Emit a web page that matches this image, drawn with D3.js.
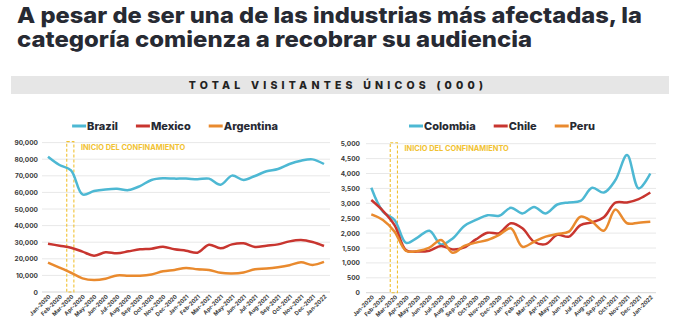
<!DOCTYPE html>
<html>
<head>
<meta charset="utf-8">
<script src="https://cdn.jsdelivr.net/npm/d3@7"></script>
<style>
  body { margin: 0; background: #fff; }
  svg { display: block; font-family: Inter, "Noto Sans", sans-serif; }
</style>
</head>
<body>
<script>
// months along the x axis
var months = ["Jan-2020","Feb-2020","Mar-2020","Apr-2020","May-2020","Jun-2020","Jul-2020","Aug-2020",
  "Sep-2020","Oct-2020","Nov-2020","Dec-2020","Jan-2021","Feb-2021","Mar-2021","Apr-2021","May-2021",
  "Jun-2021","Jul-2021","Aug-2021","Sep-2021","Oct-2021","Nov-2021","Dec-2021","Jan-2022"];

// left panel (000)
var brazil = [81500,76500,73300,58800,60800,61800,62200,61400,63800,67500,68500,68300,68300,67900,68300,
  64600,70100,67500,69900,72700,74100,77100,79100,79900,77100];
var mexico = [29100,27900,26700,24300,21900,23900,23300,24500,25700,26100,27300,25700,24900,23700,28500,
  26300,28700,29300,27100,27900,28700,30500,31300,30100,27700];
var argentina = [17700,14700,11600,8200,7200,8000,10000,9800,9800,10600,12500,13300,14500,13700,13300,
  11600,11200,11800,13700,14100,14900,16100,17900,16300,18100];

// right panel (000)
var colombia = [3520,2720,2440,1670,1860,2080,1620,1820,2240,2440,2600,2580,2850,2660,2880,2660,2960,3030,
  3080,3520,3360,3780,4620,3500,4000];
var chile = [3110,2750,2270,1420,1380,1410,1570,1450,1520,1790,2010,2000,2330,2160,1710,1630,1940,1880,
  2270,2360,2530,3020,3030,3140,3360];
var peru = [2630,2440,2050,1400,1400,1510,1770,1340,1570,1680,1770,1940,2160,1540,1710,1880,1970,2050,
  2550,2380,2080,2790,2330,2350,2380];

var leftTicks = [0,10000,20000,30000,40000,50000,60000,70000,80000,90000];
var rightTicks = [0,500,1000,1500,2000,2500,3000,3500,4000,4500,5000];

// lockdown window, as month index
var lockdown = [1.63, 2.25];

var titleLines = ["A pesar de ser una de las industrias más afectadas, la",
  "categoría comienza a recobrar su audiencia"];
var subtitle = "TOTAL VISITANTES ÚNICOS (000)";

var cyan = "#4db8d3", red = "#c8352f", orange = "#e98a2e", yellow = "#f1c232";

var W = 678, H = 330;
var svg = d3.select("body").append("svg").attr("width", W).attr("height", H);

svg.selectAll("text.title")
  .data(titleLines)
  .enter().append("text")
  .attr("class", "title")
  .attr("x", 17)
  .attr("y", function(d, i) { return 23 + i * 24; })
  .attr("font-size", 22)
  .attr("font-weight", 800)
  .attr("fill", "#272a33")
  .attr("textLength", function(d, i) { return i == 0 ? 625 : 515; })
  .attr("lengthAdjust", "spacingAndGlyphs")
  .text(function(d) { return d; });

svg.append("rect").attr("x", 11).attr("y", 76).attr("width", 658).attr("height", 18).attr("fill", "#e6e6e6");
svg.append("text")
  .attr("x", 338).attr("y", 89)
  .attr("text-anchor", "middle")
  .attr("font-size", 10.5).attr("font-weight", 800)
  .attr("letter-spacing", 4.2)
  .attr("fill", "#222")
  .text(subtitle);

function panel(opt) {
  var g = svg.append("g");
  var x = d3.scaleLinear().domain([0, months.length - 1]).range(opt.xr);
  var y = d3.scaleLinear().domain([0, opt.max]).range(opt.yr);

  // grid + y labels
  g.selectAll("line.grid").data(opt.ticks).enter().append("line")
    .attr("x1", opt.gx[0]).attr("x2", opt.gx[1])
    .attr("y1", function(d) { return y(d); }).attr("y2", function(d) { return y(d); })
    .attr("stroke", function(d) { return d == 0 ? "#d6d6d6" : "#e8e8e8"; })
    .attr("stroke-width", 1);

  g.selectAll("text.ylab").data(opt.ticks).enter().append("text")
    .attr("x", opt.lx).attr("y", function(d) { return y(d) + 2.5; })
    .attr("text-anchor", "end")
    .attr("font-size", 6.5).attr("font-weight", 700).attr("fill", "#3a3a3a")
    .text(function(d) { return d3.format(",")(d); });

  // x labels
  g.selectAll("text.xlab").data(months).enter().append("text")
    .attr("transform", function(d, i) { return "translate(" + (x(i) + 3) + "," + (y(0) + 5) + ") rotate(-45)"; })
    .attr("text-anchor", "end")
    .attr("font-size", 5.6).attr("font-weight", 700).attr("fill", "#3a3a3a")
    .text(function(d) { return d; });

  // lockdown box
  var top = y(opt.max) - 1;
  g.append("rect")
    .attr("x", x(lockdown[0])).attr("y", top)
    .attr("width", x(lockdown[1]) - x(lockdown[0]))
    .attr("height", y(0) - top)
    .attr("fill", "none").attr("stroke", yellow).attr("stroke-width", 1.1)
    .attr("stroke-dasharray", "3,2");
  g.append("text")
    .attr("x", x(lockdown[1]) + 7).attr("y", top + 8.5)
    .attr("font-size", 7.4).attr("font-weight", 700).attr("fill", yellow)
    .text("INICIO DEL CONFINAMIENTO");

  var line = d3.line()
    .x(function(d, i) { return x(i); })
    .y(function(d) { return y(d); })
    .curve(d3.curveCatmullRom.alpha(0.5));

  g.selectAll("path.series").data(opt.series).enter().append("path")
    .attr("d", function(s) { return line(s.values); })
    .attr("fill", "none")
    .attr("stroke", function(s) { return s.color; })
    .attr("stroke-width", 2.5)
    .attr("stroke-linejoin", "round");

  // legend
  var lg = g.append("g");
  var cx = 0;
  opt.series.forEach(function(s) {
    lg.append("line").attr("x1", cx).attr("x2", cx + 14).attr("y1", 0).attr("y2", 0)
      .attr("stroke", s.color).attr("stroke-width", 3);
    var t = lg.append("text").attr("x", cx + 15).attr("y", 4)
      .attr("font-size", 11).attr("font-weight", 800).attr("fill", "#272a33")
      .text(s.name);
    cx += 15 + t.node().getComputedTextLength() + 18;
  });
  cx -= 18;
  lg.attr("transform", "translate(" + (opt.legendCenter - cx / 2) + ",126)");
}

panel({
  xr: [48, 324], yr: [292, 142.6], max: 90000, ticks: leftTicks,
  gx: [42, 330], lx: 38, legendCenter: 175,
  series: [
    { name: "Brazil", values: brazil, color: cyan },
    { name: "Mexico", values: mexico, color: red },
    { name: "Argentina", values: argentina, color: orange }
  ]
});

panel({
  xr: [371.3, 650.3], yr: [292.7, 143.7], max: 5000, ticks: rightTicks,
  gx: [366, 656], lx: 360, legendCenter: 502,
  series: [
    { name: "Colombia", values: colombia, color: cyan },
    { name: "Chile", values: chile, color: red },
    { name: "Peru", values: peru, color: orange }
  ]
});
</script>
</body>
</html>
